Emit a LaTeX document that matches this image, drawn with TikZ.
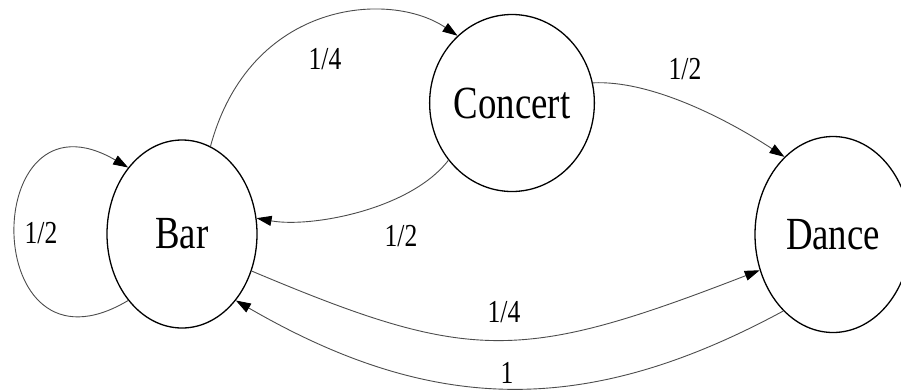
\documentclass[tikz,border=0pt]{standalone}
\usepackage{fontspec}
\newfontfamily\tms{Liberation Serif}[FakeStretch=0.8]
\usetikzlibrary{shapes.geometric,arrows.meta}
\tikzset{
  sbx/.style 2 args={ellipse,draw=black,line width=1.3pt,inner sep=0pt,minimum width=#1,minimum height=#2,font=\tms\fontsize{46}{46}\selectfont},
  flow/.style={-{Triangle[length=15pt,width=10pt,color=black]},draw=black!70,line width=0.9pt},
  plab/.style={font=\tms\fontsize{32}{32}\selectfont,inner sep=0pt},
}
\begin{document}
\begin{tikzpicture}[x=1pt,y=-1pt]
\fill[white] (0,0) rectangle (901,389);
\useasboundingbox (0,0) rectangle (901,389);
% states
\node[sbx={150pt}{188pt}] (bar) at (182,234) {Bar};
\node[sbx={139pt}{177pt}] (concert) at (512,103) {Concert};
\node[sbx={156pt}{196pt}] (dance) at (833,234.5) {Dance};
% transitions
\draw[flow] (bar.231) .. controls (-22,390) and (-22,80) .. (bar.129);
\draw[flow] (bar.72) .. controls (250,0) and (390,-10) .. (concert.129);
\draw[flow] (concert.222) .. controls (410,210) and (310,228) .. (bar.12);
\draw[flow] (concert.14) .. controls (650,80) and (725,118) .. (dance.122);
\draw[flow] (bar.332) .. controls (470,363) and (520,363) .. (dance.206);
\draw[flow] (dance.237) .. controls (589,416) and (435,416) .. (bar.309);
% probabilities
\node[plab] (pbb) at (41,233) {1/2};
\node[plab] (pbc) at (325,59) {1/4};
\node[plab] (pcb) at (401,236) {1/2};
\node[plab] (pcd) at (685,69) {1/2};
\node[plab] (pbd) at (504,312) {1/4};
\node[plab] (pdb) at (507,373) {1};
\end{tikzpicture}
\end{document}
